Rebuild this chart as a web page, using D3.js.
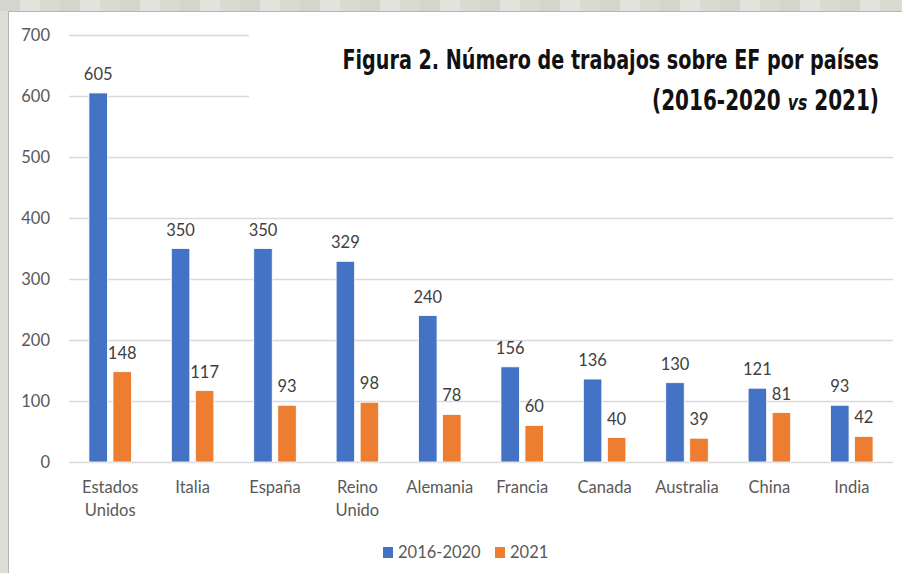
<!DOCTYPE html>
<html>
<head>
<meta charset="utf-8">
<script src="https://cdn.jsdelivr.net/npm/d3@7"></script>
<style>
  body { margin: 0; background: #dcddd6; }
  svg { display: block; }
</style>
</head>
<body>
<svg id="chart"></svg>
<script>
var categories = [["Estados", "Unidos"], ["Italia"], ["España"], ["Reino", "Unido"], ["Alemania"],
                  ["Francia"], ["Canada"], ["Australia"], ["China"], ["India"]];
var seriesNames = ["2016-2020", "2021"];
var values2016 = [605, 350, 350, 329, 240, 156, 136, 130, 121, 93];
var values2021 = [148, 117, 93, 98, 78, 60, 40, 39, 81, 42];
var yTicks = [0, 100, 200, 300, 400, 500, 600, 700];

var colors = ["#4472C4", "#ED7D31"];
var W = 902, H = 573;
var margin = {top: 35, right: 9, bottom: 111, left: 69};
var width = W - margin.left - margin.right,
    height = H - margin.top - margin.bottom;
var labelFont = "Lato, sans-serif";

var svg = d3.select("#chart").attr("width", W).attr("height", H);

// textured-ish backdrop around the chart panel
svg.append("rect").attr("width", W).attr("height", H).attr("fill", "#dcddd6");
var bg = svg.append("g");
for (var i = 0; i < 45; i++) {
  bg.append("rect")
    .attr("x", i * 20).attr("y", 0).attr("width", 20).attr("height", 11)
    .attr("fill", i % 3 == 0 ? "#d4d5cc" : (i % 3 == 1 ? "#e2e3dc" : "#d9dad2"));
}

// white panel
svg.append("rect")
    .attr("x", 8.5).attr("y", 11.5)
    .attr("width", W).attr("height", H)
    .attr("fill", "#fff")
    .attr("stroke", "#b5b5b0");

var g = svg.append("g")
    .attr("transform", "translate(" + margin.left + "," + margin.top + ")");

var y = d3.scaleLinear().domain([0, 700]).range([height, 0]);
var x0 = d3.scaleBand().domain(d3.range(categories.length)).range([0, width]).padding(0);
var x1 = d3.scaleBand().domain(seriesNames).range([0, x0.bandwidth()])
    .paddingInner(0.23).paddingOuter(0.83);

// gridlines
g.selectAll(".grid").data(yTicks).enter().append("line")
    .attr("x1", 0).attr("x2", width)
    .attr("y1", function (d) { return Math.round(y(d)) + 0.5; })
    .attr("y2", function (d) { return Math.round(y(d)) + 0.5; })
    .attr("stroke", "#d9d9d9").attr("stroke-width", 1.5);

// y tick labels
g.selectAll(".ytick").data(yTicks).enter().append("text")
    .attr("x", -19).attr("y", function (d) { return y(d) + 6; })
    .attr("text-anchor", "end")
    .style("font-family", labelFont).style("font-size", "16.5px")
    .style("fill", "#595959")
    .text(function (d) { return d; });

// title box covers gridlines
svg.append("rect")
    .attr("x", 249).attr("y", 30).attr("width", 650).attr("height", 90)
    .attr("fill", "#fff");

var rows = values2016.map(function (v, i) {
  return [{s: seriesNames[0], v: v, i: i}, {s: seriesNames[1], v: values2021[i], i: i}];
});

var groups = g.selectAll(".grp").data(rows).enter().append("g")
    .attr("transform", function (d, i) { return "translate(" + x0(i) + ",0)"; });

groups.selectAll("rect").data(function (d) { return d; }).enter().append("rect")
    .attr("x", function (d) { return x1(d.s); })
    .attr("width", x1.bandwidth())
    .attr("y", function (d) { return y(d.v); })
    .attr("height", function (d) { return height - y(d.v); })
    .attr("fill", function (d, j) { return colors[j]; })
    .attr("stroke", "#fff").attr("stroke-width", 0.8);

groups.selectAll(".val").data(function (d) { return d; }).enter().append("text")
    .attr("x", function (d) { return x1(d.s) + x1.bandwidth() / 2; })
    .attr("y", function (d) { return y(d.v) - 13; })
    .attr("text-anchor", "middle")
    .style("font-family", labelFont).style("font-size", "16.5px")
    .style("fill", "#404040")
    .text(function (d) { return d.v; });

// category labels
var cl = g.selectAll(".cat").data(categories).enter().append("text")
    .attr("x", function (d, i) { return x0(i) + x0.bandwidth() / 2; })
    .attr("y", height + 31)
    .attr("text-anchor", "middle")
    .style("font-family", labelFont).style("font-size", "16.5px")
    .style("fill", "#595959");
cl.selectAll("tspan").data(function (d) { return d; }).enter().append("tspan")
    .attr("x", function () { return d3.select(this.parentNode).attr("x"); })
    .attr("dy", function (d, j) { return j == 0 ? 0 : 23; })
    .text(function (d) { return d; });

// legend
var legend = svg.append("g").attr("transform", "translate(383,547)");
var legX = [0, 112];
seriesNames.forEach(function (s, j) {
  legend.append("rect").attr("x", legX[j]).attr("y", 0).attr("width", 10).attr("height", 11)
      .attr("fill", colors[j]);
  legend.append("text").attr("x", legX[j] + 15).attr("y", 11)
      .style("font-family", labelFont).style("font-size", "16.5px")
      .style("fill", "#595959").text(s);
});

// title: condensed bold, squeezed horizontally to the reference width
var tfont = "'DejaVu Sans Condensed', 'DejaVu Sans', sans-serif";
function fitTitle(sel, right, base, targetW) {
  var w = sel.node().getBBox().width;
  sel.attr("transform", "translate(" + right + "," + base + ") scale(" + (targetW / w) + ",1)");
}
var t1 = svg.append("text")
    .attr("text-anchor", "end")
    .style("font-family", tfont).style("font-weight", "bold").style("font-size", "27px")
    .style("fill", "#111")
    .text("Figura 2. Número de trabajos sobre EF por países");
fitTitle(t1, 879, 69, 537);

var t2 = svg.append("text")
    .attr("text-anchor", "end")
    .style("font-family", tfont).style("font-weight", "bold").style("font-size", "28px")
    .style("fill", "#111");
t2.append("tspan").text("(2016-2020 ");
t2.append("tspan").style("font-style", "italic").style("font-size", "22px").text("vs");
t2.append("tspan").text(" 2021)");
fitTitle(t2, 879, 110, 227);
</script>
</body>
</html>
